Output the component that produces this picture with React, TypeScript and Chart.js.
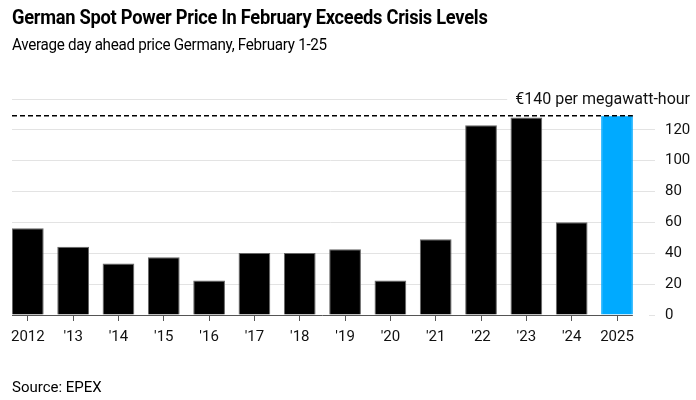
import { useEffect, useRef } from 'react';
import { Chart, registerables } from 'chart.js';

Chart.register(...registerables);

// Average day-ahead power price in Germany, February 1-25 (EUR/MWh)
const years = ['2012', "'13", "'14", "'15", "'16", "'17", "'18", "'19", "'20", "'21", "'22", "'23", "'24", '2025'];
const priceEur = [56.2, 44.3, 33.3, 37.4, 22.3, 40.2, 40.2, 42.6, 22.3, 49.1, 123, 128, 60.1, 129.2];
const yTicks = [0, 20, 40, 60, 80, 100, 120, 140];
const topTickLabel = '€140 per megawatt-hour';

const FONT = 'Roboto, "Liberation Sans", Arial, sans-serif';
const HIGHLIGHT = '#00aaff';

const overlay = {
  id: 'overlay',
  afterDatasetsDraw(chart: any) {
    const { ctx, chartArea, scales } = chart;
    const y = scales.y;
    const bars = chart.getDatasetMeta(0).data;
    const last = bars[bars.length - 1];
    const barsRight = last.x + last.width / 2;
    ctx.save();

    // top gridline with the unit label
    const yTop = y.getPixelForValue(yTicks[yTicks.length - 1]);
    ctx.font = `16px ${FONT}`;
    const tw = ctx.measureText(topTickLabel).width;
    const textRight = 690;
    ctx.strokeStyle = '#e3e3e3';
    ctx.lineWidth = 1;
    ctx.beginPath();
    ctx.moveTo(chartArea.left, Math.round(yTop) + 0.5);
    ctx.lineTo(textRight - tw - 8, Math.round(yTop) + 0.5);
    ctx.stroke();
    ctx.fillStyle = '#111';
    ctx.textAlign = 'right';
    ctx.textBaseline = 'middle';
    ctx.fillText(topTickLabel, textRight, yTop + 1);

    // baseline under the bars
    const y0 = Math.round(y.getPixelForValue(0)) + 0.5;
    ctx.strokeStyle = '#555';
    ctx.beginPath();
    ctx.moveTo(chartArea.left, y0);
    ctx.lineTo(barsRight, y0);
    ctx.stroke();

    // dashed reference line at the latest value
    const yRef = y.getPixelForValue(priceEur[priceEur.length - 1]);
    ctx.strokeStyle = '#000';
    ctx.lineWidth = 1.5;
    ctx.setLineDash([5, 3]);
    ctx.beginPath();
    ctx.moveTo(chartArea.left, yRef);
    ctx.lineTo(barsRight, yRef);
    ctx.stroke();
    ctx.restore();
  },
};

export default function App() {
  const ref = useRef<HTMLCanvasElement | null>(null);

  useEffect(() => {
    if (!ref.current) return;
    const lastIdx = years.length - 1;
    const chart = new Chart(ref.current, {
      type: 'bar',
      data: {
        datasets: [
          {
            data: priceEur.map((v, i) => ({ x: i, y: v })),
            backgroundColor: years.map((_, i) => (i === lastIdx ? HIGHLIGHT : '#000')),
            borderColor: years.map((_, i) => (i === lastIdx ? HIGHLIGHT : '#666')),
            borderWidth: 1,
            categoryPercentage: 1,
            barPercentage: 0.7,
          } as any,
        ],
      },
      options: {
        animation: false,
        responsive: false,
        maintainAspectRatio: false,
        layout: { padding: { top: 99, left: 12, right: 0, bottom: 0 } },
        plugins: { legend: { display: false }, tooltip: { enabled: false } },
        scales: {
          x: {
            type: 'linear',
            offset: false,
            min: -0.349,
            max: 13.706,
            afterBuildTicks: (axis: any) => {
              axis.ticks = years.map((_, i) => ({ value: i }));
            },
            afterFit: (s: any) => {
              s.height = 85;
            },
            grid: { offset: false, drawOnChartArea: false, drawTicks: true, tickLength: 6, tickColor: '#555' },
            border: { display: false },
            ticks: {
              callback: (v: any) => years[v] ?? '',
              font: { family: FONT, size: 15 },
              color: '#111',
              padding: 7,
              maxRotation: 0,
              autoSkip: false,
            },
          },
          y: {
            position: 'right',
            min: 0,
            max: 140,
            afterBuildTicks: (axis: any) => {
              axis.ticks = yTicks.map((v) => ({ value: v }));
            },
            afterFit: (s: any) => {
              s.width = 47;
            },
            grid: {
              color: (c: any) => (c.tick && (c.tick.value === 0 || c.tick.value === 140) ? 'rgba(0,0,0,0)' : '#e3e3e3'),
              tickColor: (c: any) => (c.tick && c.tick.value === 140 ? 'rgba(0,0,0,0)' : '#e3e3e3'),
              tickLength: 6,
            },
            border: { display: false },
            ticks: {
              callback: (v: any) => (v === 140 ? '' : String(v)),
              padding: 10,
              font: { family: FONT, size: 15 },
              color: '#111',
            },
          },
        },
      } as any,
      plugins: [overlay],
    });
    return () => chart.destroy();
  }, []);

  return (
    <div style={{ position: 'fixed', left: 0, top: 0, width: 696, height: 400, background: '#fff', fontFamily: FONT, color: '#000' }}>
      <canvas ref={ref} width={696} height={400} style={{ position: 'absolute', left: 0, top: 0, width: 696, height: 400 }} />
      <div style={{ position: 'absolute', left: 12, top: 7, fontSize: 21, lineHeight: '21px', fontWeight: 700, letterSpacing: -0.3, whiteSpace: 'nowrap', transform: 'scaleX(0.87)', transformOrigin: 'left top' }}>
        German Spot Power Price In February Exceeds Crisis Levels
      </div>
      <div style={{ position: 'absolute', left: 12, top: 36.5, fontSize: 16, lineHeight: '16px', letterSpacing: -0.3, whiteSpace: 'nowrap', transform: 'scaleX(0.95)', transformOrigin: 'left top' }}>
        Average day ahead price Germany, February 1-25
      </div>
      <div style={{ position: 'absolute', left: 12, top: 380, fontSize: 15, lineHeight: '15px', whiteSpace: 'nowrap' }}>
        Source: EPEX
      </div>
    </div>
  );
}
